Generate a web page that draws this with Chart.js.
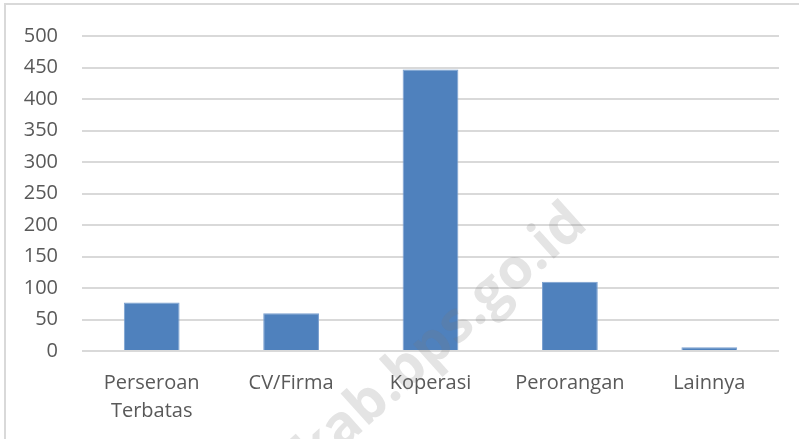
<!DOCTYPE html>
<html>
<head>
<meta charset="utf-8">
<script src="https://cdn.jsdelivr.net/npm/chart.js@4.4.0/dist/chart.umd.min.js"></script>
<style>
    html, body { margin: 0; padding: 0; background: #fff; }
    #wrap { position: relative; width: 799px; height: 439px; }
</style>
</head>
<body>
<div id="wrap"><canvas id="chart" width="799" height="439"></canvas></div>
<script>
// data
const categories = [['Perseroan', 'Terbatas'], 'CV/Firma', 'Koperasi', 'Perorangan', 'Lainnya'];
const values = [77, 60, 447, 110, 6];
const yMax = 500;
const yStep = 50;

const textColor = '#595959';
const gridColor = '#d9d9d9';

// outer frame of the chart object (left and top edges are visible)
const framePlugin = {
    id: 'frame',
    beforeDraw: function (chart) {
        const c = chart.ctx;
        c.save();
        c.strokeStyle = gridColor;
        c.lineWidth = 2;
        c.beginPath();
        c.moveTo(5, 439);
        c.lineTo(5, 4);
        c.lineTo(799, 4);
        c.stroke();
        c.restore();
    }
};

// faint site watermark on top of the plot
const watermarkPlugin = {
    id: 'watermark',
    afterDraw: function (chart) {
        const c = chart.ctx;
        c.save();
        c.translate(560, 194);
        c.rotate(-42 * Math.PI / 180);
        c.font = 'bold 56px "Open Sans"';
        c.textAlign = 'right';
        c.textBaseline = 'top';
        c.fillStyle = 'rgba(120,120,120,0.2)';
        c.fillText('kab.bps.go.id', 0, 0);
        c.restore();
    }
};

new Chart(document.getElementById('chart'), {
    type: 'bar',
    data: {
        labels: categories,
        datasets: [
            {
                data: values,
                backgroundColor: '#4f81bd',
                borderColor: '#7aa0d0',
                borderWidth: 1,
                categoryPercentage: 1,
                barPercentage: 0.4,
            }
        ]
    },
    options: {
        responsive: false,
        animation: false,
        layout: {
            padding: { top: 33, right: 20, bottom: 0, left: 0 }
        },
        plugins: {
            legend: { display: false },
            tooltip: { enabled: false },
        },
        scales: {
            x: {
                grid: { display: false, drawTicks: false },
                border: { display: false },
                ticks: {
                    color: textColor,
                    font: { family: '"Open Sans"', size: 20, lineHeight: 1.4 },
                    padding: 18,
                    maxRotation: 0,
                    autoSkip: false,
                },
                afterFit: function (scale) { scale.height = 88; }
            },
            y: {
                min: 0,
                max: yMax,
                grid: { color: gridColor, lineWidth: 2, drawTicks: false },
                border: { display: false },
                ticks: {
                    stepSize: yStep,
                    color: textColor,
                    font: { family: '"Open Sans"', size: 20 },
                    padding: 24,
                },
                afterFit: function (scale) { scale.width = 82; }
            }
        }
    },
    plugins: [framePlugin, watermarkPlugin]
});
</script>
</body>
</html>
